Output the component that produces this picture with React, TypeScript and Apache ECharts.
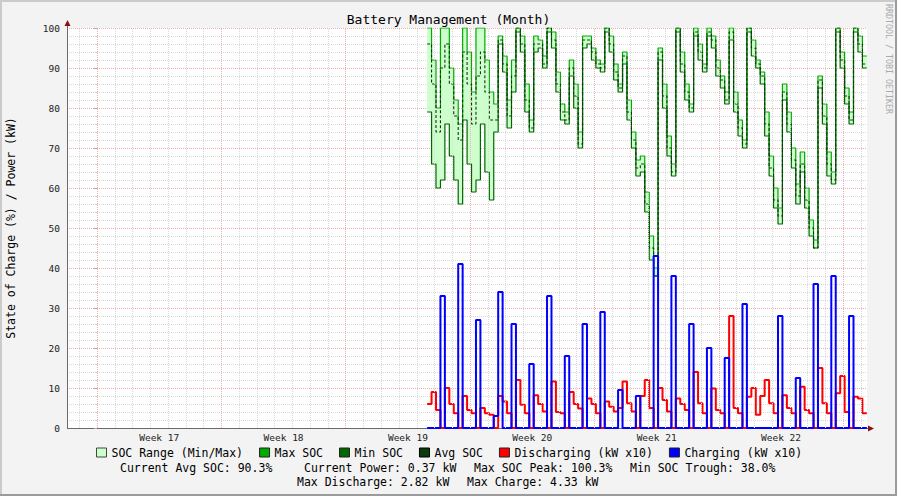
import React, { useEffect, useRef } from "react";
import * as echarts from "echarts";

// time axis: days after Monday 00:00 of week 17
const X_MIN = -1.69;
const X_MAX = 43.34;
const T0 = 18.58; // first sample
const STEP = 0.25; // 6 hours

const WEEK_LABELS = ["Week 17", "Week 18", "Week 19", "Week 20", "Week 21", "Week 22"];
const WEEK_STARTS = [0, 7, 14, 21, 28, 35, 42];
const DAY_LINES = [-1, 1, 2, 3, 4, 5, 6, 8, 9, 10, 11, 12, 13, 15, 16, 17, 18, 19, 20, 22, 23, 24, 25, 26, 27, 29, 30, 31, 32, 33, 34, 36, 37, 38, 39, 40, 41, 43];

const SOC_MAX = [
  100, 92, 80, 100, 100, 90, 82, 76, 100, 94,
  84, 100, 100, 92, 84, 81, 98, 93, 82, 92,
  100, 98, 86, 77, 98, 97, 93, 100, 99, 89,
  81, 79, 92, 86, 74, 98, 98, 95, 92, 91,
  100, 98, 91, 86, 94, 82, 74, 67, 68, 59,
  48, 40, 95, 86, 73, 66, 100, 94, 86, 81,
  100, 96, 91, 100, 98, 92, 88, 84, 100, 84,
  77, 72, 100, 97, 92, 89, 79, 68, 60, 55,
  86, 79, 70, 61, 69, 60, 52, 47, 88, 81,
  69, 64, 100, 94, 85, 79, 100, 98, 93,
];
const SOC_AVG = [
  96, 86, 74, 90, 96, 86, 78, 72, 94, 86,
  76, 88, 94, 84, 77, 77, 97, 91, 78, 88,
  100, 96, 82, 75, 96, 96, 91, 100, 97, 86,
  79, 77, 90, 83, 71, 97, 97, 94, 91, 90,
  100, 96, 89, 85, 93, 79, 72, 65, 66, 56,
  45, 38, 94, 83, 70, 64, 100, 91, 84, 80,
  99, 94, 90, 99, 97, 90, 87, 82, 99, 81,
  75, 71, 100, 95, 91, 88, 76, 65, 57, 53,
  84, 76, 67, 58, 66, 57, 50, 45, 87, 78,
  66, 62, 100, 92, 83, 77, 100, 96, 91,
];
const SOC_MIN = [
  79, 66, 60, 62, 76, 68, 62, 56, 77, 66,
  59, 62, 76, 64, 57, 74, 96, 89, 75, 84,
  99, 94, 79, 74, 94, 95, 90, 99, 95, 84,
  77, 76, 88, 80, 70, 95, 96, 92, 90, 89,
  99, 94, 87, 84, 91, 77, 70, 63, 64, 54,
  42, 38, 92, 80, 68, 63, 99, 89, 82, 79,
  98, 92, 89, 98, 95, 88, 85, 81, 97, 79,
  73, 70, 99, 93, 90, 86, 73, 63, 55, 51,
  82, 74, 65, 56, 64, 55, 48, 45, 85, 76,
  63, 61, 99, 90, 81, 76, 99, 94, 90,
];
const DISCHARGE = [
  6, 9, 4.5, 0, 10, 6, 3.7, 0, 8, 4.5,
  3.7, 0, 5, 3.7, 3.3, 0, 8, 6.6, 3.7, 0,
  12, 5.8, 3.7, 0, 8.2, 6, 4.1, 0, 11.6, 4,
  3.7, 0, 9, 6, 4.9, 0, 7.4, 6, 3.7, 0,
  6.6, 5.3, 4.1, 5, 11.6, 6.2, 4.1, 0, 8, 12,
  5, 0, 10, 7, 4.1, 0, 7.4, 6, 4.5, 0,
  14, 6.2, 3.7, 0, 9.9, 4.5, 3.7, 0, 28, 5,
  3.7, 0, 7.8, 10, 3.3, 8, 12, 6.2, 3.7, 0,
  8.2, 5, 3.7, 0, 10.3, 4.5, 3.7, 0, 15, 6.2,
  3.7, 0, 8.7, 13, 4, 0, 7.8, 7.4, 3.7,
];
const CHARGE = [
  0, 0, 0, 33, 0, 0, 0, 41, 0, 0,
  0, 27, 0, 0, 0, 3, 34, 0, 0, 26,
  0, 0, 0, 16, 0, 0, 0, 33, 0, 0,
  0, 18, 0, 0, 0, 26, 0, 0, 0, 29,
  0, 0, 0, 9.5, 0, 0, 0, 8, 0, 0,
  0, 43, 0, 0, 0, 38, 0, 0, 0, 26,
  0, 0, 0, 20, 0, 0, 0, 17.5, 0, 0,
  0, 31, 0, 0, 0, 0, 0, 0, 0, 28,
  0, 0, 0, 12.5, 0, 0, 0, 36, 0, 0,
  0, 38, 0, 0, 0, 28, 0, 0, 0,
];

const SUMMARY_ROW1 = ["Current Avg SOC: 90.3%", "Current Power: 0.37 kW", "Max SOC Peak: 100.3%", "Min SOC Trough: 38.0%"];
const SUMMARY_ROW2 = ["Max Discharge: 2.82 kW", "Max Charge: 4.33 kW"];

const MONO = "DejaVu Sans Mono";

function toSteps(arr: number[]) {
  const pts = arr.map((v, i) => [T0 + i * STEP, v]);
  pts.push([T0 + arr.length * STEP, arr[arr.length - 1]]);
  return pts;
}

export default function App() {
  const ref = useRef<HTMLDivElement>(null);
  useEffect(() => {
    if (!ref.current) return;
    const chart = echarts.init(ref.current, undefined, { renderer: "svg" });
    const bandData = SOC_MIN.map((v, i) => [T0 + i * STEP, T0 + (i + 1) * STEP, v, SOC_MAX[i]]);
    const lineBase = { type: "line", step: "end", symbol: "none", showSymbol: false, animation: false };
    const option: any = {
      animation: false,
      backgroundColor: "#f3f3f3",
      title: {
        text: "Battery Management (Month)",
        left: "center",
        top: 8,
        textStyle: { fontFamily: MONO, fontSize: 13, fontWeight: "normal", color: "#000" },
      },
      legend: {
        left: 96,
        top: 446.5,
        padding: 0,
        itemWidth: 10,
        itemHeight: 9,
        itemGap: 16,
        selectedMode: false,
        textStyle: { fontFamily: MONO, fontSize: 11.5, color: "#000" },
        data: [
          { name: "SOC Range (Min/Max)", icon: "rect", itemStyle: { color: "#ccffcc", borderColor: "#444", borderWidth: 1 } },
          { name: "Max SOC", icon: "rect", itemStyle: { color: "#00aa00", borderColor: "#222", borderWidth: 1 } },
          { name: "Min SOC", icon: "rect", itemStyle: { color: "#006600", borderColor: "#222", borderWidth: 1 } },
          { name: "Avg SOC", icon: "rect", itemStyle: { color: "#0d3a0d", borderColor: "#000", borderWidth: 1 } },
          { name: "Discharging (kW x10)", icon: "rect", itemStyle: { color: "#ff0000", borderColor: "#222", borderWidth: 1 } },
          { name: "Charging (kW x10)", icon: "rect", itemStyle: { color: "#0000ff", borderColor: "#222", borderWidth: 1 } },
        ],
      },
      grid: { left: 67, top: 28, right: 30, bottom: 68, show: true, backgroundColor: "#ffffff", borderWidth: 0 },
      xAxis: {
        type: "value",
        min: X_MIN,
        max: X_MAX,
        axisLine: { show: false },
        axisTick: { show: false },
        axisLabel: { show: false },
        splitLine: { show: false },
      },
      yAxis: {
        type: "value",
        min: 0,
        max: 100,
        interval: 10,
        axisLine: { show: false },
        axisTick: { show: true, length: 3, lineStyle: { color: "#aaa" } },
        minorTick: { show: true, splitNumber: 5, length: 2, lineStyle: { color: "#ccc" } },
        axisLabel: { fontFamily: MONO, fontSize: 9.5, color: "#222", margin: 7 },
        splitLine: { show: true, lineStyle: { color: "#eeb0b0", type: [1, 1], width: 1 } },
        minorSplitLine: { show: true, lineStyle: { color: "#d9d9d9", type: [1, 1], width: 1 } },
      },
      series: [
        {
          ...lineBase,
          name: "gridMinor",
          z: 1,
          data: [[X_MIN, 0]],
          lineStyle: { width: 0 },
          markLine: {
            silent: true,
            symbol: ["none", "none"],
            animation: false,
            label: { show: false },
            lineStyle: { color: "#d9d9d9", type: [1, 1], width: 1 },
            data: DAY_LINES.map((d) => ({ xAxis: d })),
          },
        },
        {
          ...lineBase,
          name: "gridMajor",
          z: 1,
          data: [[X_MIN, 0]],
          lineStyle: { width: 0 },
          markLine: {
            silent: true,
            symbol: ["none", "none"],
            animation: false,
            label: { show: false },
            lineStyle: { color: "#eeb0b0", type: [1, 1], width: 1 },
            data: WEEK_STARTS.map((d) => ({ xAxis: d })),
          },
        },
        {
          type: "custom",
          name: "SOC Range (Min/Max)",
          z: 2,
          clip: true,
          animation: false,
          silent: true,
          data: bandData,
          encode: { x: [0, 1], y: [2, 3] },
          itemStyle: { color: "#ccffcc" },
          renderItem: (_params: any, api: any) => {
            const p1 = api.coord([api.value(0), api.value(3)]);
            const p2 = api.coord([api.value(1), api.value(2)]);
            return {
              type: "rect",
              shape: { x: p1[0], y: p1[1], width: p2[0] - p1[0] + 0.3, height: p2[1] - p1[1] },
              style: { fill: "#ccffcc" },
            };
          },
        },
        { ...lineBase, name: "Max SOC", data: toSteps(SOC_MAX), lineStyle: { color: "#00aa00", width: 1.2 }, itemStyle: { color: "#00aa00" } },
        { ...lineBase, name: "Min SOC", data: toSteps(SOC_MIN), lineStyle: { color: "#006600", width: 1.2 }, itemStyle: { color: "#006600" } },
        { ...lineBase, name: "Avg SOC", data: toSteps(SOC_AVG), lineStyle: { color: "#0d3a0d", width: 1.1, type: [3, 2] }, itemStyle: { color: "#0d3a0d" } },
        { ...lineBase, name: "Discharging (kW x10)", data: toSteps(DISCHARGE), lineStyle: { color: "#ff0000", width: 2 }, itemStyle: { color: "#ff0000" } },
        { ...lineBase, name: "Charging (kW x10)", data: toSteps(CHARGE), lineStyle: { color: "#0000ff", width: 2 }, itemStyle: { color: "#0000ff" } },
      ],
    };
    chart.setOption(option);

    const txt = (text: string, x: number, y: number, extra: any = {}) => ({
      type: "text",
      x,
      y,
      silent: true,
      style: {
        text,
        fontFamily: MONO,
        fontSize: 11.5,
        fill: "#000",
        align: "left",
        textAlign: "left",
        verticalAlign: "middle",
        textVerticalAlign: "middle",
        ...extra,
      },
    });

    const weekLabels = WEEK_LABELS.map((w, i) => {
      const px = chart.convertToPixel({ xAxisIndex: 0 }, WEEK_STARTS[i] + 3.5) as number;
      return txt(w, px, 437, { fontSize: 9.5, fill: "#222", align: "center", textAlign: "center" });
    });

    const row1X = [120, 304, 474, 630];
    const row2X = [297, 467];

    chart.setOption({
      graphic: [
        { type: "rect", shape: { x: 0, y: 0, width: 897, height: 2 }, style: { fill: "#cbcbcb" }, silent: true },
        { type: "rect", shape: { x: 0, y: 0, width: 2, height: 496 }, style: { fill: "#cbcbcb" }, silent: true },
        { type: "rect", shape: { x: 0, y: 494, width: 897, height: 2 }, style: { fill: "#9b9b9b" }, silent: true },
        { type: "rect", shape: { x: 895, y: 0, width: 2, height: 496 }, style: { fill: "#9b9b9b" }, silent: true },
        { type: "line", shape: { x1: 67.5, y1: 428, x2: 67.5, y2: 23 }, style: { stroke: "#6a6a6a", lineWidth: 1 }, silent: true },
        { type: "line", shape: { x1: 67, y1: 428.5, x2: 870, y2: 428.5 }, style: { stroke: "#6a6a6a", lineWidth: 1 }, silent: true },
        { type: "polygon", shape: { points: [[64.5, 26], [70.5, 26], [67.5, 20]] }, style: { fill: "#8b1010" }, silent: true },
        { type: "polygon", shape: { points: [[868, 425.5], [868, 431.5], [874, 428.5]] }, style: { fill: "#8b1010" }, silent: true },
        { ...txt("State of Charge (%) / Power (kW)", 11, 228, { align: "center", textAlign: "center" }), rotation: Math.PI / 2 },
        { ...txt("RRDTOOL / TOBI OETIKER", 888.5, 59, { fontSize: 8.3, fill: "#aaaaaa", align: "center", textAlign: "center" }), rotation: -Math.PI / 2 },
        ...SUMMARY_ROW1.map((s, i) => txt(s, row1X[i], 468)),
        ...SUMMARY_ROW2.map((s, i) => txt(s, row2X[i], 482)),
        ...weekLabels,
      ],
    });

    return () => chart.dispose();
  }, []);
  return <div ref={ref} style={{ position: "absolute", left: 0, top: 0, width: 897, height: 496 }} />;
}
